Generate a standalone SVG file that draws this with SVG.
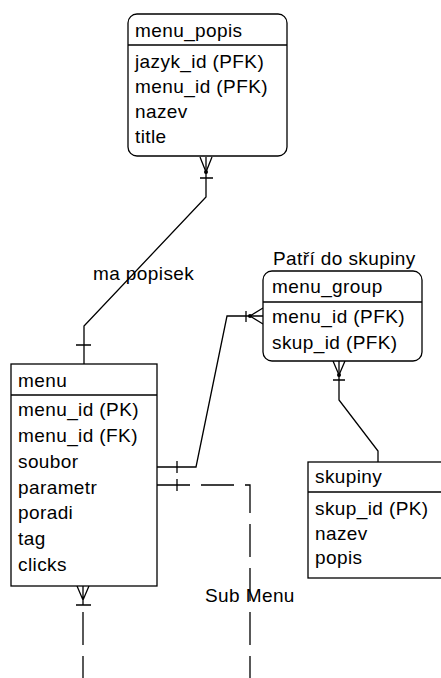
<svg xmlns="http://www.w3.org/2000/svg" width="441" height="678" viewBox="0 0 441 678">
<style>
.box{fill:#fff;stroke:#000;stroke-width:1.3}
.sep{stroke:#000;stroke-width:1.6}
text{font-family:"Liberation Sans",Arial,sans-serif;font-size:19px;letter-spacing:0.4px;fill:#000}
.ln{fill:none;stroke:#000;stroke-width:1.3}
.dash{stroke-dasharray:33 11}
</style>
<rect width="441" height="678" fill="#fff"/>
<g id="connectors">
  <g id="rel-ma-popisek">
    <path class="ln" d="M206,157 V197 L84,326 V364"/>
    <path class="ln" d="M200,157 L206,172 M212,157 L206,172 M200,178 H213 M76,345 H91"/>
    <circle cx="206" cy="172" r="2" fill="#000"/>
    <text x="93" y="280">ma popisek</text>
  </g>
  <g id="rel-patri">
    <path class="ln" d="M157,467 H196 L227,316 H263"/>
    <path class="ln" d="M177,461 V473 M246,311 V322 M250,316 L263,308 M250,316 L263,324"/>
    <circle cx="250" cy="316" r="2" fill="#000"/>
    <text x="273" y="265">Patří do skupiny</text>
  </g>
  <g id="rel-skupiny">
    <path class="ln" d="M339,361 V400 L378,451 V462"/>
    <path class="ln" d="M333,361 L339,375 M345,361 L339,375 M333,380 H345"/>
    <circle cx="339" cy="375" r="2" fill="#000"/>
  </g>
  <g id="rel-submenu">
    <path class="ln dash" d="M157,485 H250 V690"/>
    <path class="ln" d="M177,479 V491"/>
    <path class="ln" d="M83,586 V605 M77,586 L83,600 M89,586 L83,600 M76,605 H91"/>
    <path class="ln dash" d="M83,612 V690"/>
    <text x="205" y="602">Sub Menu</text>
  </g>
</g>
<g id="menu_popis">
  <rect class="box" x="128" y="14" width="159" height="142" rx="9"/>
  <line class="sep" x1="128" y1="45" x2="287" y2="45"/>
  <text x="135" y="37">menu_popis</text>
  <text x="135" y="68">jazyk_id (PFK)</text>
  <text x="135" y="93">menu_id (PFK)</text>
  <text x="135" y="118">nazev</text>
  <text x="135" y="143">title</text>
</g>
<g id="menu">
  <rect class="box" x="11" y="364" width="146" height="222"/>
  <line class="sep" x1="11" y1="395" x2="157" y2="395"/>
  <text x="18" y="387">menu</text>
  <text x="18" y="416">menu_id (PK)</text>
  <text x="18" y="442">menu_id (FK)</text>
  <text x="18" y="468">soubor</text>
  <text x="18" y="494">parametr</text>
  <text x="18" y="519">poradi</text>
  <text x="18" y="545">tag</text>
  <text x="18" y="571">clicks</text>
</g>
<g id="menu_group">
  <rect class="box" x="263" y="271" width="159" height="90" rx="9"/>
  <line class="sep" x1="263" y1="302" x2="422" y2="302"/>
  <text x="272" y="293">menu_group</text>
  <text x="272" y="323">menu_id (PFK)</text>
  <text x="272" y="349">skup_id (PFK)</text>
</g>
<g id="skupiny">
  <rect class="box" x="308" y="462" width="140" height="116"/>
  <line class="sep" x1="308" y1="492" x2="448" y2="492"/>
  <text x="315" y="483">skupiny</text>
  <text x="315" y="515">skup_id (PK)</text>
  <text x="315" y="540">nazev</text>
  <text x="315" y="564">popis</text>
</g>
</svg>
